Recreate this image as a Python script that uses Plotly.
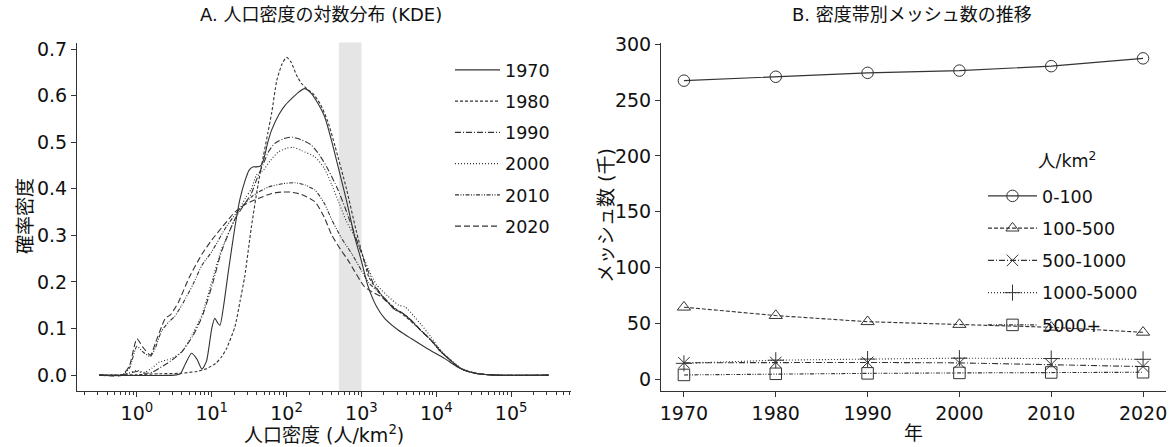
import plotly.graph_objects as go

# ---------------- data ----------------
years = ["1970", "1980", "1990", "2000", "2010", "2020"]

# KDE curves: log10(population density) and density estimate
logx_1970 = [-0.5, 0.5, 0.58, 0.65, 0.73, 0.8, 0.87, 0.93, 1.0, 1.04, 1.08, 1.11, 1.16, 1.22, 1.31, 1.38,
             1.44, 1.5, 1.55, 1.6, 1.65, 1.69, 1.75, 1.8, 1.9, 1.98, 2.07, 2.15, 2.24, 2.33, 2.42, 2.51,
             2.6, 2.7, 2.8, 2.91, 3.0, 3.09, 3.2, 3.31, 3.49, 3.67, 3.84, 4.0, 4.11, 4.29, 4.4, 4.56,
             4.8, 5.5]
kde_1970 = [0.0, 0.0, 0.003, 0.025, 0.047, 0.035, 0.013, 0.03, 0.1, 0.122, 0.112, 0.107, 0.15, 0.22, 0.318, 0.38,
            0.415, 0.44, 0.447, 0.447, 0.449, 0.461, 0.5, 0.526, 0.56, 0.579, 0.594, 0.606, 0.615, 0.605, 0.583, 0.554,
            0.504, 0.44, 0.375, 0.297, 0.245, 0.19, 0.148, 0.122, 0.097, 0.078, 0.061, 0.046, 0.036, 0.017, 0.009, 0.003,
            0.0, 0.0]

logx_1980 = [-0.5, 0.0, 0.3, 0.58, 0.8, 0.93, 1.05, 1.13, 1.2, 1.31, 1.38, 1.44, 1.53, 1.62, 1.69, 1.75,
             1.8, 1.87, 1.94, 2.0, 2.06, 2.13, 2.2, 2.29, 2.35, 2.45, 2.55, 2.65, 2.8, 2.93, 3.02, 3.1,
             3.2, 3.3, 3.4, 3.5, 3.6, 3.7, 3.85, 3.95, 4.1, 4.2, 4.33, 4.45, 4.56, 4.8, 5.5]
kde_1980 = [0.0, 0.001, 0.003, 0.004, 0.008, 0.014, 0.025, 0.039, 0.058, 0.104, 0.16, 0.211, 0.318, 0.41, 0.47, 0.52,
            0.562, 0.633, 0.668, 0.682, 0.672, 0.645, 0.626, 0.612, 0.605, 0.582, 0.545, 0.49, 0.4, 0.31, 0.255, 0.21,
            0.185, 0.165, 0.15, 0.137, 0.124, 0.11, 0.088, 0.072, 0.045, 0.03, 0.014, 0.007, 0.003, 0.0, 0.0]

logx_1990 = [-0.5, -0.25, -0.1, 0.0, 0.1, 0.2, 0.3, 0.45, 0.6, 0.75, 0.87, 1.0, 1.13, 1.31, 1.45, 1.53,
             1.6, 1.69, 1.76, 1.84, 1.95, 2.07, 2.2, 2.33, 2.45, 2.56, 2.68, 2.78, 2.87, 2.96, 3.05, 3.15,
             3.27, 3.4, 3.45, 3.52, 3.6, 3.7, 3.8, 3.93, 4.05, 4.16, 4.33, 4.45, 4.56, 4.8, 5.5]
kde_1990 = [0.0, 0.0, 0.004, 0.008, 0.004, 0.006, 0.015, 0.03, 0.05, 0.085, 0.125, 0.19, 0.265, 0.335, 0.37, 0.39,
            0.42, 0.454, 0.48, 0.497, 0.507, 0.511, 0.505, 0.494, 0.47, 0.44, 0.4, 0.36, 0.32, 0.28, 0.24, 0.2,
            0.172, 0.15, 0.141, 0.136, 0.127, 0.112, 0.095, 0.075, 0.052, 0.036, 0.014, 0.007, 0.003, 0.0, 0.0]

logx_2000 = [-0.5, -0.25, -0.1, 0.0, 0.1, 0.2, 0.3, 0.45, 0.6, 0.75, 0.87, 1.0, 1.13, 1.31, 1.45, 1.53,
             1.6, 1.69, 1.78, 1.89, 2.0, 2.09, 2.2, 2.38, 2.5, 2.6, 2.7, 2.8, 2.9, 3.0, 3.1, 3.2,
             3.35, 3.5, 3.58, 3.7, 3.8, 3.93, 4.05, 4.16, 4.33, 4.45, 4.56, 4.8, 5.5]
kde_2000 = [0.0, 0.0, 0.005, 0.01, 0.006, 0.015, 0.028, 0.035, 0.05, 0.09, 0.13, 0.2, 0.27, 0.335, 0.38, 0.4,
            0.43, 0.44, 0.46, 0.479, 0.487, 0.489, 0.482, 0.468, 0.445, 0.41, 0.37, 0.33, 0.3, 0.265, 0.225, 0.195,
            0.17, 0.15, 0.147, 0.127, 0.108, 0.082, 0.055, 0.038, 0.015, 0.007, 0.003, 0.0, 0.0]

logx_2010 = [-0.5, -0.2, -0.1, 0.0, 0.08, 0.18, 0.25, 0.33, 0.43, 0.5, 0.6, 0.75, 0.87, 1.0, 1.2, 1.36,
             1.55, 1.76, 1.95, 2.11, 2.25, 2.38, 2.5, 2.6, 2.73, 2.87, 3.0, 3.1, 3.27, 3.4, 3.45, 3.52,
             3.6, 3.7, 3.8, 3.93, 4.05, 4.16, 4.33, 4.45, 4.56, 4.8, 5.5]
kde_2010 = [0.0, 0.0, 0.015, 0.062, 0.05, 0.04, 0.06, 0.095, 0.115, 0.125, 0.15, 0.195, 0.236, 0.265, 0.32, 0.354,
            0.385, 0.404, 0.411, 0.413, 0.408, 0.397, 0.37, 0.335, 0.295, 0.261, 0.225, 0.198, 0.172, 0.148, 0.14, 0.136,
            0.127, 0.112, 0.095, 0.075, 0.052, 0.036, 0.014, 0.007, 0.003, 0.0, 0.0]

logx_2020 = [-0.5, -0.2, -0.1, 0.0, 0.08, 0.18, 0.25, 0.33, 0.38, 0.45, 0.55, 0.7, 0.87, 1.0, 1.15, 1.31,
             1.45, 1.62, 1.8, 1.93, 2.05, 2.2, 2.38, 2.5, 2.6, 2.72, 2.82, 3.04, 3.15, 3.27, 3.4, 3.45,
             3.52, 3.6, 3.7, 3.8, 3.93, 4.05, 4.16, 4.33, 4.45, 4.56, 4.8, 5.5]
kde_2020 = [0.0, 0.0, 0.02, 0.078, 0.06, 0.043, 0.07, 0.104, 0.122, 0.13, 0.155, 0.21, 0.26, 0.29, 0.32, 0.35,
            0.367, 0.379, 0.39, 0.393, 0.393, 0.388, 0.372, 0.34, 0.302, 0.27, 0.247, 0.19, 0.178, 0.168, 0.148, 0.14,
            0.136, 0.127, 0.112, 0.095, 0.075, 0.052, 0.036, 0.014, 0.007, 0.003, 0.0, 0.0]

band_low, band_high = 500, 1000

log_ticks = [1, 10, 100, 1000, 10000, 100000]
log_tick_text = ["10<sup>0</sup>", "10<sup>1</sup>", "10<sup>2</sup>", "10<sup>3</sup>",
                 "10<sup>4</sup>", "10<sup>5</sup>"]

# mesh counts (thousands)
census_years = [1970, 1980, 1990, 2000, 2010, 2020]
bands = ["0-100", "100-500", "500-1000", "1000-5000", "5000+"]
mesh_0_100 = [267.5, 271.0, 274.5, 276.5, 280.5, 287.5]
mesh_100_500 = [64.5, 57.0, 51.5, 49.0, 46.5, 42.0]
mesh_500_1000 = [14.7, 15.0, 15.0, 14.6, 13.2, 11.3]
mesh_1000_5000 = [14.2, 17.0, 18.0, 18.8, 18.5, 17.8]
mesh_5000p = [3.8, 4.8, 5.2, 5.6, 6.0, 6.2]

# ---------------- styling ----------------
FONT = "DejaVu Sans, Noto Sans CJK JP"
INK = "#333333"
TXT = "#111111"
FS_TICK = 19
FS_LABEL = 19
FS_TITLE = 18
FS_LEG = 17.5

kde_x = [logx_1970, logx_1980, logx_1990, logx_2000, logx_2010, logx_2020]
kde_y = [kde_1970, kde_1980, kde_1990, kde_2000, kde_2010, kde_2020]
kde_dash = ["solid", "3px,2px", "6px,2px,1px,2px", "1px,2px", "4px,1.5px,1px,1.5px,1px,1.5px", "6px,3px"]

mesh_series = [mesh_0_100, mesh_100_500, mesh_500_1000, mesh_1000_5000, mesh_5000p]
mesh_dash = ["solid", "4px,2px", "6px,2px,1px,2px", "1px,2px", "4px,1.5px,1px,1.5px,1px,1.5px"]
mesh_symbol = ["circle-open", "triangle-up-open", "x-thin-open", "cross-thin-open", "square-open"]

fig = go.Figure()

for lx, ky, yr, dsh in zip(kde_x, kde_y, years, kde_dash):
    fig.add_trace(go.Scatter(
        x=[10 ** v for v in lx], y=ky, mode="lines", name=yr, legendgroup="k" + yr,
        line=dict(color=INK, width=1.1, dash=dsh, shape="spline", smoothing=0.6),
        xaxis="x", yaxis="y", legend="legend",
    ))

for vals, nm, dsh, sym in zip(mesh_series, bands, mesh_dash, mesh_symbol):
    fig.add_trace(go.Scatter(
        x=census_years, y=vals, mode="lines+markers", name=nm, legendgroup="m" + nm,
        line=dict(color=INK, width=1.1, dash=dsh),
        marker=dict(symbol=sym, size=11.5, color=INK, line=dict(color=INK, width=1)),
        xaxis="x2", yaxis="y2", legend="legend2",
    ))

fig.add_shape(type="rect", x0=band_low, x1=band_high, xref="x", yref="y domain", y0=0, y1=1,
              fillcolor="#e5e5e5", line_width=0, layer="below")

W, H = 1169, 447
xd1 = [77 / W, 571 / W]
xd2 = [661 / W, 1166 / W]
yd = [1 - 391 / H, 1 - 42.5 / H]

axis_common = dict(showline=True, linecolor=INK, linewidth=1, ticks="outside", ticklen=5,
                   tickcolor=INK, showgrid=False, zeroline=False, automargin=False,
                   tickfont=dict(family=FONT, size=FS_TICK, color=TXT))

minor_vals = [m * 10 ** e for e in range(-1, 6) for m in range(2, 10)]

fig.update_layout(
    width=W, height=H, margin=dict(l=0, r=0, t=0, b=0, autoexpand=False),
    paper_bgcolor="white", plot_bgcolor="white",
    font=dict(family=FONT, size=FS_LEG, color=TXT),
    xaxis=dict(domain=xd1, type="log", range=[-0.8, 5.8], tickmode="array",
               tickvals=log_ticks, ticktext=log_tick_text, anchor="y",
               minor=dict(ticks="outside", ticklen=3, tickcolor=INK, tickmode="array",
                          tickvals=minor_vals), **axis_common),
    yaxis=dict(domain=yd, range=[-0.034, 0.714], tickmode="array",
               tickvals=[0, 0.1, 0.2, 0.3, 0.4, 0.5, 0.6, 0.7], tickformat=".1f",
               anchor="x", **axis_common),
    xaxis2=dict(domain=xd2, range=[1967.5, 2022.5], tickmode="array", tickvals=census_years,
                anchor="y2", **axis_common),
    yaxis2=dict(domain=yd, range=[-10.6, 301.7], tickmode="array",
                tickvals=[0, 50, 100, 150, 200, 250, 300], anchor="x2", **axis_common),
    legend=dict(x=450 / W, y=1 - 52 / H, xanchor="left", yanchor="top",
                bgcolor="rgba(0,0,0,0)", font=dict(family=FONT, size=FS_LEG, color=TXT),
                itemwidth=45, traceorder="grouped", tracegroupgap=5.5),
    legend2=dict(x=983 / W, y=1 - 178 / H, xanchor="left", yanchor="top",
                 bgcolor="rgba(0,0,0,0)", font=dict(family=FONT, size=FS_LEG, color=TXT),
                 itemwidth=49, traceorder="grouped", tracegroupgap=6.5),
    showlegend=True,
)

annots = [
    dict(text="A. 人口密度の対数分布 (KDE)", x=321 / W, y=1 - 15 / H, size=FS_TITLE),
    dict(text="B. 密度帯別メッシュ数の推移", x=912 / W, y=1 - 15 / H, size=FS_TITLE),
    dict(text="人口密度 (人/km<sup>2</sup>)", x=(xd1[0] + xd1[1]) / 2, y=1 - 434 / H, size=FS_LABEL),
    dict(text="年", x=(xd2[0] + xd2[1]) / 2, y=1 - 433 / H, size=FS_LABEL),
    dict(text="確率密度", x=25 / W, y=1 - 216 / H, textangle=-90, size=FS_LABEL),
    dict(text="メッシュ数 (千)", x=606 / W, y=1 - 216 / H, textangle=-90, size=FS_LABEL),
    dict(text="人/km<sup>2</sup>", x=1067 / W, y=1 - 160 / H, size=FS_LEG),
]
for a in annots:
    sz = a.pop("size")
    fig.add_annotation(xref="paper", yref="paper", showarrow=False, xanchor="center",
                       yanchor="middle", font=dict(family=FONT, size=sz, color=TXT), **a)

fig.write_html("out.html")
